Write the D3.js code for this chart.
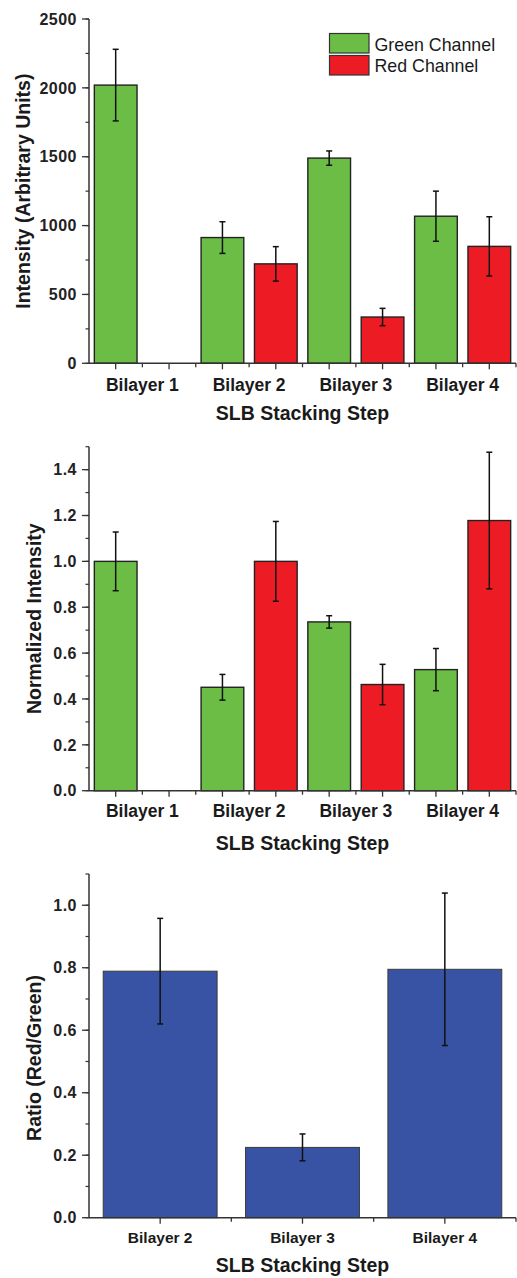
<!DOCTYPE html>
<html>
<head>
<meta charset="utf-8">
<script src="https://cdn.jsdelivr.net/npm/d3@7"></script>
<style>
  html, body { margin: 0; padding: 0; background: #fff; }
  svg { display: block; font-family: Arial, "Liberation Sans", sans-serif; }
</style>
</head>
<body>
<svg id="fig" width="517" height="1278"></svg>
<script>
// ---- data ----
const steps = ["Bilayer 1", "Bilayer 2", "Bilayer 3", "Bilayer 4"];
const channels = ["Green Channel", "Red Channel"];

// raw intensity (arbitrary units)
const greenIntensity = [2020, 913, 1490, 1068];
const greenIntensityErr = [260, 115, 52, 182];
const redIntensity = [null, 722, 336, 849];
const redIntensityErr = [null, 125, 63, 215];

// intensity normalised to the first layer of each colour
const greenNorm = [1.0, 0.451, 0.736, 0.528];
const greenNormErr = [0.128, 0.056, 0.027, 0.092];
const redNorm = [null, 1.0, 0.463, 1.178];
const redNormErr = [null, 0.174, 0.088, 0.298];

// red / green ratio
const ratioSteps = ["Bilayer 2", "Bilayer 3", "Bilayer 4"];
const ratio = [0.789, 0.225, 0.795];
const ratioErr = [0.169, 0.043, 0.244];

const yTicksIntensity = [0, 500, 1000, 1500, 2000, 2500];
const yTicksNorm = [0.0, 0.2, 0.4, 0.6, 0.8, 1.0, 1.2, 1.4];
const yTicksRatio = [0.0, 0.2, 0.4, 0.6, 0.8, 1.0];

// ---- styling ----
const GREEN = "#6bbd45", RED = "#ed1c24", BLUE = "#3953a4";
const AXIS = "#333";
const svg = d3.select("#fig");
const X0 = 89, X1 = 516;

function yAxis(g, y, major, minorStep, fmt) {
  const [d0, d1] = y.domain();
  const minor = d3.range(d0, d1 + 1e-9, minorStep);
  g.append("line").attr("x1", X0).attr("x2", X0)
    .attr("y1", y(d0)).attr("y2", y(d1))
    .attr("stroke", AXIS).attr("stroke-width", 1.5);
  g.selectAll(".ymin").data(minor).join("line")
    .attr("x1", X0 - 3.5).attr("x2", X0)
    .attr("y1", d => y(d)).attr("y2", d => y(d))
    .attr("stroke", AXIS).attr("stroke-width", 1.2);
  g.selectAll(".ymaj").data(major).join("line")
    .attr("x1", X0 - 7).attr("x2", X0)
    .attr("y1", d => y(d)).attr("y2", d => y(d))
    .attr("stroke", AXIS).attr("stroke-width", 1.3);
  g.selectAll(".ylab").data(major).join("text")
    .attr("x", X0 - 12).attr("y", d => y(d)).attr("dy", "0.36em")
    .attr("text-anchor", "end").attr("font-weight", "bold")
    .attr("font-size", 16).attr("letter-spacing", 0.5).attr("fill", "#222")
    .text(fmt);
}

function xAxis(g, x, yBase, nUnits, labelPos, labels, labelSize, labelY) {
  g.append("line").attr("x1", X0).attr("x2", X1)
    .attr("y1", yBase).attr("y2", yBase)
    .attr("stroke", AXIS).attr("stroke-width", 1.5);
  const ticks = d3.range(1, nUnits + 1);
  g.selectAll(".xt").data(ticks).join("line")
    .attr("x1", d => x(d)).attr("x2", d => x(d))
    .attr("y1", yBase).attr("y2", d => yBase + (d % 2 ? 6 : 4))
    .attr("stroke", AXIS).attr("stroke-width", 1.3);
  g.selectAll(".xl").data(labels).join("text")
    .attr("x", (d, i) => x(labelPos[i])).attr("y", labelY)
    .attr("text-anchor", "middle").attr("font-weight", "bold")
    .attr("font-size", labelSize).attr("fill", "#1a1a1a")
    .text(d => d);
}

function yTitle(g, text, xBase, yMid) {
  g.append("text")
    .attr("transform", `translate(${xBase},${yMid}) rotate(-90)`)
    .attr("text-anchor", "middle").attr("font-weight", "bold")
    .attr("font-size", 19.5).attr("fill", "#1a1a1a").text(text);
}

function xTitle(g, yBase) {
  g.append("text").attr("x", (X0 + X1) / 2).attr("y", yBase)
    .attr("text-anchor", "middle").attr("font-weight", "bold")
    .attr("font-size", 19.5).attr("fill", "#1a1a1a").text("SLB Stacking Step");
}

function errorBars(g, items, x, y) {
  const cap = 3;
  const eb = g.selectAll(".eb").data(items).join("g");
  eb.append("line")
    .attr("x1", d => x(d.pos)).attr("x2", d => x(d.pos))
    .attr("y1", d => y(d.v + d.e)).attr("y2", d => y(d.v - d.e));
  eb.append("line")
    .attr("x1", d => x(d.pos) - cap).attr("x2", d => x(d.pos) + cap)
    .attr("y1", d => y(d.v + d.e)).attr("y2", d => y(d.v + d.e));
  eb.append("line")
    .attr("x1", d => x(d.pos) - cap).attr("x2", d => x(d.pos) + cap)
    .attr("y1", d => y(d.v - d.e)).attr("y2", d => y(d.v - d.e));
  eb.selectAll("line").attr("stroke", "#111").attr("stroke-width", 1.5);
}

// grouped two-channel panel
function groupedPanel(top, bottom, yMax, green, greenErr, red, redErr, major, minorStep, fmt, title, titleX, labelY, xTitleY) {
  const g = svg.append("g");
  const x = d3.scaleLinear().domain([0, 16]).range([X0, X1]);
  const y = d3.scaleLinear().domain([0, yMax]).range([bottom, top]);
  const items = [];
  steps.forEach((s, i) => {
    if (green[i] != null) items.push({ pos: 4 * i + 1, v: green[i], e: greenErr[i], c: GREEN });
    if (red[i] != null) items.push({ pos: 4 * i + 3, v: red[i], e: redErr[i], c: RED });
  });
  const bw = x(1.6) - x(0);
  g.selectAll(".bar").data(items).join("rect")
    .attr("x", d => x(d.pos) - bw / 2).attr("width", bw)
    .attr("y", d => y(d.v)).attr("height", d => y(0) - y(d.v))
    .attr("fill", d => d.c).attr("stroke", "#222").attr("stroke-width", 1.4);
  errorBars(g, items, x, y);
  yAxis(g, y, major, minorStep, fmt);
  xAxis(g, x, bottom, 16, steps.map((s, i) => 4 * i + 2), steps, 17.5, labelY);
  yTitle(g, title, titleX, (top + bottom) / 2);
  xTitle(g, xTitleY);
  return g;
}

// Panel A: raw intensity
const gA = groupedPanel(19, 363.3, 2500, greenIntensity, greenIntensityErr, redIntensity, redIntensityErr,
  yTicksIntensity, 250, d => d, "Intensity (Arbitrary Units)", 30, 391, 420);

// legend
const legend = gA.append("g");
const legendColors = [GREEN, RED];
legend.selectAll("rect").data(channels).join("rect")
  .attr("x", 329.5).attr("y", (d, i) => 33.5 + i * 22)
  .attr("width", 39.5).attr("height", 19.5)
  .attr("fill", (d, i) => legendColors[i]).attr("stroke", "#333").attr("stroke-width", 1.2);
legend.selectAll("text").data(channels).join("text")
  .attr("x", 374.5).attr("y", (d, i) => 50.5 + i * 21.5)
  .attr("font-size", 17.8).attr("fill", "#1a1a1a").text(d => d);

// Panel B: normalised intensity
groupedPanel(446.7, 790.7, 1.5, greenNorm, greenNormErr, redNorm, redNormErr,
  yTicksNorm, 0.1, d => d.toFixed(1), "Normalized Intensity", 41, 817, 850);

// Panel C: ratio
(function () {
  const top = 874, bottom = 1217.7;
  const g = svg.append("g");
  const x = d3.scaleLinear().domain([0, 6]).range([X0, X1]);
  const y = d3.scaleLinear().domain([0, 1.1]).range([bottom, top]);
  const items = ratio.map((v, i) => ({ pos: 2 * i + 1, v, e: ratioErr[i] }));
  const bw = x(1.6) - x(0);
  g.selectAll(".bar").data(items).join("rect")
    .attr("x", d => x(d.pos) - bw / 2).attr("width", bw)
    .attr("y", d => y(d.v)).attr("height", d => y(0) - y(d.v))
    .attr("fill", BLUE).attr("stroke", "#3a3a3a").attr("stroke-width", 1);
  errorBars(g, items, x, y);
  yAxis(g, y, yTicksRatio, 0.1, d => d.toFixed(1));
  xAxis(g, x, bottom, 6, ratioSteps.map((s, i) => 2 * i + 1), ratioSteps, 15.5, 1242.5);
  yTitle(g, "Ratio (Red/Green)", 41, 1058);
  xTitle(g, 1272);
})();
</script>
</body>
</html>
